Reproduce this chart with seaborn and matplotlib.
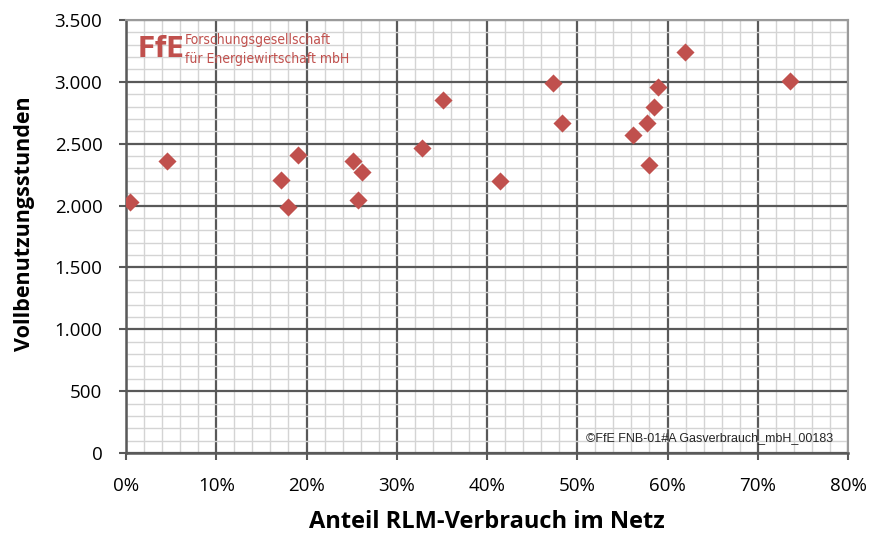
import numpy as np
import pandas as pd
import matplotlib
matplotlib.use("Agg")
import matplotlib.pyplot as plt
import seaborn as sns
from matplotlib.ticker import MultipleLocator, FuncFormatter

# -----------------------------------------
# DATA
# -----------------------------------------
rlm_share = [0.4, 4.5, 17.2, 18.0, 19.1, 25.2, 25.7, 26.2, 32.8, 35.1,
             41.4, 47.3, 48.3, 56.2, 57.7, 58.0, 58.5, 58.9, 61.9, 73.6]
full_load_hours = [2025, 2362, 2203, 1988, 2405, 2357, 2045, 2270, 2465, 2850,
                   2195, 2991, 2667, 2573, 2667, 2330, 2794, 2959, 3239, 3010]

df = pd.DataFrame({"share": rlm_share, "hours": full_load_hours})

# -----------------------------------------
# STYLE
# -----------------------------------------
sns.set_theme(style="white")
plt.rcParams["font.family"] = ["Open Sans", "DejaVu Sans"]

RED = "#C0504D"
MAJOR = "#595959"
MINOR = "#D4D4D4"

fig = plt.figure(figsize=(8.72, 5.35), dpi=100)
ax = fig.add_axes([0.1445, 0.1533, 0.828, 0.8093])

sns.scatterplot(data=df, x="share", y="hours", marker="D", s=85,
                color=RED, linewidth=0, ax=ax, zorder=5, legend=False)

ax.set_xlim(0, 80)
ax.set_ylim(0, 3500)
ax.xaxis.set_major_locator(MultipleLocator(10))
ax.xaxis.set_minor_locator(MultipleLocator(2))
ax.yaxis.set_major_locator(MultipleLocator(500))
ax.yaxis.set_minor_locator(MultipleLocator(100))
ax.xaxis.set_major_formatter(FuncFormatter(lambda v, p: f"{v:.0f}%"))
ax.yaxis.set_major_formatter(FuncFormatter(lambda v, p: f"{v:,.0f}".replace(",", ".")))

ax.grid(which="minor", color=MINOR, linewidth=1.0, zorder=0)
ax.grid(which="major", color=MAJOR, linewidth=1.6, zorder=1)
ax.set_axisbelow(True)

for side in ["top", "right"]:
    ax.spines[side].set_color("#9A9A9A")
    ax.spines[side].set_linewidth(1.5)
for side in ["left", "bottom"]:
    ax.spines[side].set_color(MAJOR)
    ax.spines[side].set_linewidth(1.8)

ax.tick_params(which="major", direction="out", length=5, width=1.5,
               color=MAJOR, labelsize=13.5, labelcolor="black",
               left=True, bottom=True)
ax.tick_params(axis="y", pad=12)
ax.tick_params(axis="x", pad=12)
ax.tick_params(which="minor", length=0)

ax.set_xlabel("Anteil RLM-Verbrauch im Netz", fontsize=17,
              fontweight="bold", color="black")
ax.set_ylabel("Vollbenutzungsstunden", fontsize=15.5,
              fontweight="bold", color="black")
ax.xaxis.set_label_coords(0.5, -0.132)
ax.yaxis.set_label_coords(-0.126, 0.53)

# logo and source note
fig.text(0.158, 0.908, "FfE", color=RED, fontsize=21, fontweight="bold",
         va="center", ha="left", family="DejaVu Sans", fontstretch="condensed")
fig.text(0.212, 0.925, "Forschungsgesellschaft", color=RED, fontsize=10,
         va="center", ha="left", family="DejaVu Sans", fontstretch="condensed")
fig.text(0.212, 0.890, "für Energiewirtschaft mbH", color=RED, fontsize=10,
         va="center", ha="left", family="DejaVu Sans", fontstretch="condensed")
fig.text(0.955, 0.181, "©FfE FNB-01#A Gasverbrauch_mbH_00183", color="#262626",
         fontsize=9, ha="right", va="center", family="Liberation Sans")

plt.savefig("out.png", dpi=100)
plt.close()
